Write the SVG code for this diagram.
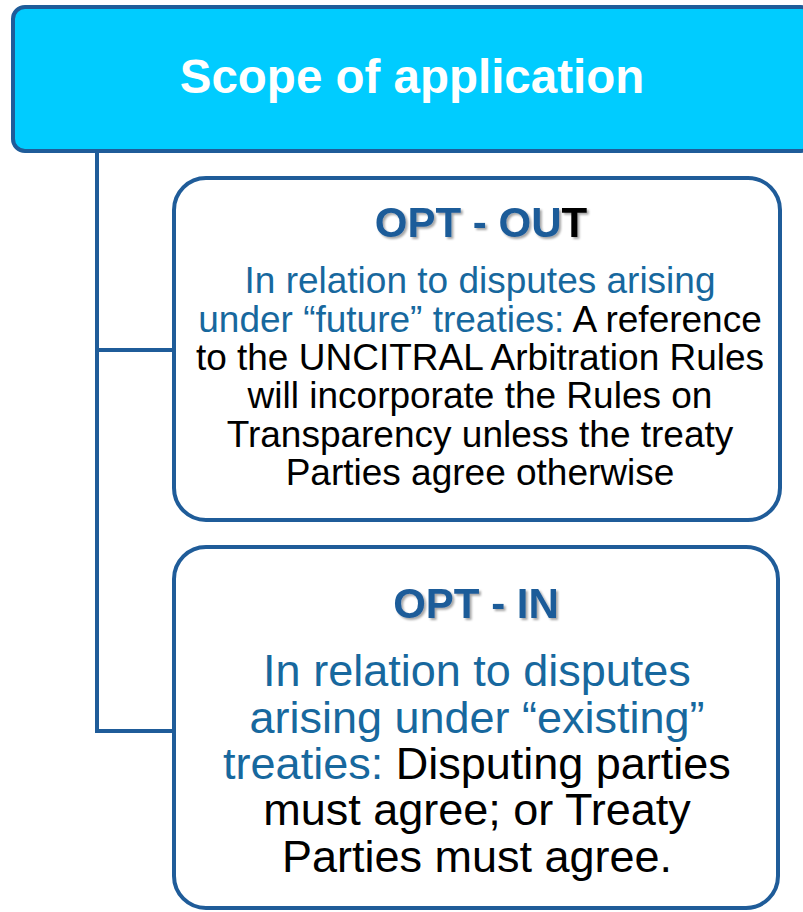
<svg xmlns="http://www.w3.org/2000/svg" width="803" height="912" viewBox="0 0 803 912">
<style>
.box{fill:#ffffff;stroke:#1F5C99;stroke-width:4}
.conn{fill:none;stroke:#1F5C99;stroke-width:4}
.hd{font-family:"Liberation Sans",Arial,sans-serif;font-weight:bold;font-size:42px;fill:#1F5C99;text-anchor:middle}
.t1{font-family:"Liberation Sans",Arial,sans-serif;font-size:37px;fill:#000000;text-anchor:middle}
.t2{font-family:"Liberation Sans",Arial,sans-serif;font-size:45px;fill:#000000;text-anchor:middle}
.bl{fill:#17689E}
</style>
<defs>
<filter id="sh" x="-10%" y="-20%" width="120%" height="140%">
<feDropShadow dx="2" dy="2" stdDeviation="1" flood-color="#000000" flood-opacity="0.35"/>
</filter>
</defs>
<g id="connectors">
<path class="conn" d="M97,151 V731 H174"/>
<path class="conn" d="M97,350 H174"/>
</g>
<g id="scope">
<rect x="13" y="7" width="800" height="144" rx="12" ry="12" fill="#00CCFF" stroke="#1F5C99" stroke-width="4"/>
<text x="412" y="93" font-family="'Liberation Sans',Arial,sans-serif" font-weight="bold" font-size="47.5" fill="#ffffff" text-anchor="middle">Scope of application</text>
</g>
<g id="optout">
<rect class="box" x="174" y="178" width="606" height="342" rx="32" ry="32"/>
<text class="hd" x="481" y="237" filter="url(#sh)">OPT - OU<tspan fill="#000000">T</tspan></text>
<text class="t1" x="480" y="293"><tspan class="bl">In relation to disputes arising</tspan></text>
<text class="t1" x="480" y="332"><tspan class="bl">under “future” treaties:</tspan> A reference</text>
<text class="t1" x="480" y="370">to the UNCITRAL Arbitration Rules</text>
<text class="t1" x="480" y="408">will incorporate the Rules on</text>
<text class="t1" x="480" y="447">Transparency unless the treaty</text>
<text class="t1" x="480" y="485">Parties agree otherwise</text>
</g>
<g id="optin">
<rect class="box" x="174" y="547" width="604" height="361" rx="32" ry="32"/>
<text class="hd" x="476" y="618" filter="url(#sh)">OPT - IN</text>
<text class="t2" x="477" y="686"><tspan class="bl">In relation to disputes</tspan></text>
<text class="t2" x="477" y="733"><tspan class="bl">arising under “existing”</tspan></text>
<text class="t2" x="477" y="779"><tspan class="bl">treaties:</tspan> Disputing parties</text>
<text class="t2" x="477" y="825">must agree; or Treaty</text>
<text class="t2" x="477" y="872">Parties must agree.</text>
</g>
</svg>
